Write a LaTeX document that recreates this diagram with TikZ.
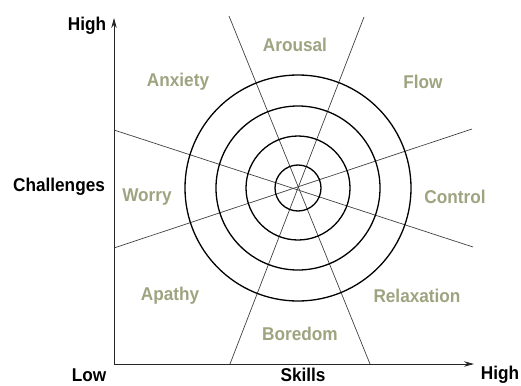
\documentclass[tikz,border=0pt]{standalone}
\usepackage{fontspec}
\setmainfont[FakeStretch=0.93]{Liberation Sans}
\usetikzlibrary{arrows.meta}
\definecolor{zonegreen}{RGB}{158,163,128}
\begin{document}
\begin{tikzpicture}[x=1pt,y=-1pt,>={Stealth[length=10pt,width=5.5pt]},
    zone/.style={text=zonegreen,font=\fontsize{18.5}{21}\selectfont\bfseries},
    axislabel/.style={font=\fontsize{18.5}{21}\selectfont\bfseries},
    spoke/.style={black!75,line width=0.7pt},
    ring/.style={black,line width=1.3pt}]
  \useasboundingbox (0,0) rectangle (521,385);
  % Draw axes
  \coordinate (ytop) at (114,18);
  \coordinate (xend) at (474,364);
  \draw[<->,black!85,line width=0.8pt] (ytop) |- (xend);
  % spokes through the centre
  \coordinate (hub) at (298,188);
  \coordinate (w1) at (114,130); \coordinate (e1) at (473,247);
  \coordinate (w2) at (114,248); \coordinate (e2) at (472,129);
  \coordinate (n1) at (229,16);  \coordinate (s1) at (370,364);
  \coordinate (n2) at (364,17);  \coordinate (s2) at (230,364);
  \foreach \a/\b in {w1/e1, w2/e2, n1/s1, n2/s2}
    \draw[spoke] (\a) -- (\b);
  % rings
  \foreach \r in {23,52,82,113}
    \draw[ring] (hub) circle (\r);
  % axis labels
  \node[axislabel] (highy) at (87,26) {High};
  \node[axislabel] (challenges) at (59,187) {Challenges};
  \node[axislabel] (low) at (89,375) {Low};
  \node[axislabel,inner sep=1pt] (skills) at (303,375) {Skills};
  \node[axislabel] (highx) at (500,375) {High};
  % zones
  \node[zone] (anxiety) at (178,82) {Anxiety};
  \node[zone] (arousal) at (295,45) {Arousal};
  \node[zone] (flow) at (423,82) {Flow};
  \node[zone] (worry) at (147,197) {Worry};
  \node[zone] (control) at (455,197) {Control};
  \node[zone] (apathy) at (170,296) {Apathy};
  \node[zone] (relaxation) at (417,296) {Relaxation};
  \node[zone] (boredom) at (300,334) {Boredom};
\end{tikzpicture}
\end{document}
